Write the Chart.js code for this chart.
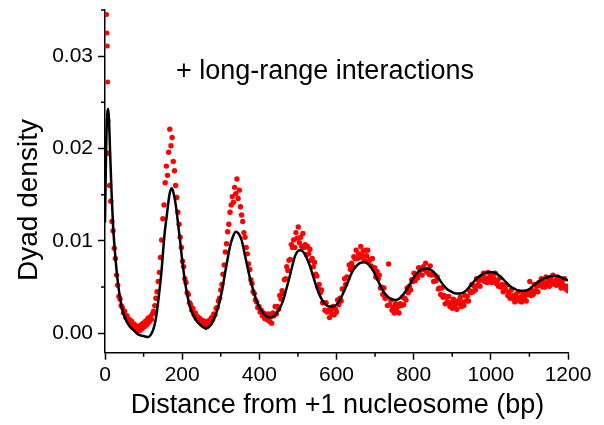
<!DOCTYPE html>
<html>
<head>
<meta charset="utf-8">
<script src="https://cdn.jsdelivr.net/npm/chart.js@4.4.1/dist/chart.umd.min.js"></script>
<style>
  html, body { margin: 0; padding: 0; background: #fff; }
  #wrap { width: 604px; height: 425px; }
</style>
</head>
<body>
<div id="wrap"><canvas id="grafico" width="604" height="425"></canvas></div>
<script>
// ticks
const xTicks = [0, 200, 400, 600, 800, 1000, 1200];
const yTicks = [0.00, 0.01, 0.02, 0.03];

// the first few points right at the +1 nucleosome (bp, density)
const spikeX = [4, 5, 6, 7, 8];
const spikeY = [0.0345, 0.0325, 0.0311, 0.0272, 0.0230];

// measured dyad density, one value every 3 bp starting at 9 bp
const dyadStart = 9;
const dyadStep = 3;
const dyadDensity = [
  // 9 - 93
  .0195, .0160, .0143, .0121, .0111, .0092, .0081, .0063, .0052, .0040, .0037, .0030, .0028, .0022, .0024,
  .0017, .0019, .0013, .0015, .0009, .0013, .0006, .0010, .0004, .0008, .0002, .0007, .0003, .0009,
  // 96 - 192
  .0005, .0011, .0007, .0013, .0009, .0016, .0012, .0018, .0015, .0021, .0024, .0030, .0038, .0045, .0056,
  .0066, .0082, .0101, .0124, .0139, .0163, .0181, .0171, .0196, .0221, .0203, .0212, .0186, .0176, .0160,
  .0147, .0131, .0118,
  // 195 - 300
  .0104, .0093, .0078, .0072, .0059, .0055, .0044, .0042, .0033, .0031, .0025, .0027, .0020, .0022, .0016,
  .0018, .0013, .0016, .0011, .0014, .0009, .0013, .0008, .0012, .0010, .0014, .0011, .0017, .0015, .0021,
  .0020, .0027, .0028, .0035, .0038, .0047,
  // 303 - 420
  .0053, .0064, .0074, .0088, .0097, .0110, .0118, .0131, .0139, .0148, .0142, .0158, .0151, .0167, .0146,
  .0155, .0137, .0128, .0121, .0109, .0104, .0093, .0086, .0075, .0069, .0058, .0054, .0045, .0043, .0036,
  .0034, .0028, .0029, .0023, .0025, .0019, .0022, .0016, .0020, .0015,
  // 423 - 540
  .0021, .0013, .0018, .0011, .0022, .0019, .0029, .0021, .0029, .0026, .0041, .0037, .0046, .0043, .0058,
  .0059, .0072, .0068, .0079, .0080, .0096, .0093, .0101, .0093, .0109, .0103, .0115, .0098, .0104, .0094,
  .0108, .0093, .0096, .0085, .0094, .0086, .0091, .0079, .0081, .0072,
  // 543 - 660
  .0077, .0064, .0062, .0050, .0053, .0044, .0047, .0033, .0033, .0025, .0033, .0023, .0025, .0017, .0025,
  .0021, .0029, .0020, .0026, .0023, .0036, .0031, .0038, .0035, .0048, .0048, .0059, .0053, .0061, .0060,
  .0074, .0069, .0076, .0072, .0083, .0081, .0090, .0081, .0086, .0082,
  // 663 - 780
  .0094, .0084, .0089, .0079, .0090, .0084, .0090, .0078, .0080, .0073, .0081, .0070, .0071, .0061, .0067,
  .0059, .0063, .0049, .0050, .0042, .0049, .0038, .0039, .0030, .0075, .0031, .0036, .0025, .0028, .0022,
  .0032, .0024, .0029, .0022, .0032, .0030, .0039, .0031, .0038, .0036,
  // 783 - 900
  .0049, .0044, .0051, .0047, .0058, .0056, .0065, .0057, .0063, .0060, .0071, .0064, .0069, .0063, .0072,
  .0069, .0076, .0066, .0069, .0064, .0073, .0063, .0065, .0056, .0063, .0057, .0061, .0048, .0049, .0042,
  .0049, .0039, .0041, .0032, .0039, .0034, .0040, .0029, .0033, .0027,
  // 903 - 1020
  .0037, .0029, .0033, .0026, .0035, .0032, .0039, .0029, .0034, .0030, .0041, .0035, .0040, .0035, .0046,
  .0044, .0053, .0045, .0051, .0047, .0059, .0052, .0057, .0051, .0061, .0058, .0065, .0056, .0060, .0055,
  .0066, .0058, .0062, .0055, .0063, .0059, .0065, .0054, .0057, .0051,
  // 1023 - 1200
  .0060, .0050, .0053, .0045, .0052, .0047, .0052, .0041, .0044, .0038, .0047, .0038, .0041, .0034, .0042,
  .0038, .0045, .0035, .0039, .0034, .0044, .0037, .0041, .0035, .0045, .0042, .0056, .0041, .0046, .0042,
  .0053, .0046, .0051, .0045, .0055, .0052, .0059, .0050, .0055, .0050, .0061, .0053, .0057, .0051, .0060,
  .0056, .0063, .0053, .0057, .0052, .0061, .0053, .0056, .0049, .0057, .0052, .0059, .0048, .0051, .0046
];

// fitted curve (black line)
const fitX = [0, 3, 6, 8.6, 11, 13, 17, 21, 26, 30, 34.5, 39, 43, 50, 56, 65, 73, 82, 90, 100,
  112, 118, 125, 130, 134, 138, 142.5, 147, 151, 155, 160, 164, 168, 173, 177, 181, 186, 190, 195, 199,
  204, 208, 214, 220, 228, 238, 250, 262, 272, 281, 290, 298, 305, 311, 318, 324, 331, 339, 346, 354,
  360, 367, 375, 384, 393, 402, 414, 426, 436, 445, 454, 462, 470, 479, 486, 492, 498, 505, 512, 520,
  530, 540, 550, 560, 570, 580, 589, 600, 610, 620, 630, 640, 650, 660, 672, 682, 692, 702, 712, 722,
  732, 742, 753, 764, 775, 786, 797, 808, 820, 838, 850, 862, 874, 886, 898, 910, 920, 932, 944, 956,
  968, 980, 992, 1002, 1014, 1026, 1038, 1050, 1062, 1074, 1088, 1100, 1112, 1124, 1136, 1148, 1160, 1170, 1180, 1190,
  1200];
const fitY = [.0120, .0200, .0238, .0243, .0225, .0199, .0152, .0116, .0087, .0068, .0051, .0039, .0029, .0019, .0013, .0007, .0004, .0000, -.0002, -.0003,
  -.0004, -.0002, .0004, .0012, .0022, .0035, .0051, .0070, .0091, .0110, .0127, .0141, .0152, .0157, .0153, .0145, .0131, .0116, .0099, .0083,
  .0066, .0054, .0040, .0029, .0020, .0013, .0008, .0005, .0008, .0014, .0024, .0036, .0050, .0065, .0081, .0094, .0104, .0110, .0108, .0101,
  .0090, .0076, .0061, .0047, .0035, .0027, .0020, .0017, .0018, .0022, .0028, .0036, .0048, .0062, .0074, .0083, .0088, .0090, .0089, .0084,
  .0074, .0061, .0048, .0038, .0032, .0029, .0029, .0031, .0037, .0046, .0056, .0066, .0072, .0076, .0077, .0075, .0070, .0062, .0053, .0045,
  .0040, .0037, .0036, .0038, .0043, .0050, .0058, .0065, .0069, .0070, .0067, .0061, .0054, .0048, .0045, .0043, .0043, .0045, .0050, .0056,
  .0061, .0064, .0066, .0066, .0065, .0061, .0056, .0051, .0048, .0046, .0046, .0048, .0052, .0056, .0059, .0061, .0062, .0062, .0061, .0059,
  .0057];

const xTitle = 'Distance from +1 nucleosome (bp)';
const yTitle = 'Dyad density';
const annotationText = '+ long-range interactions';

document.addEventListener('DOMContentLoaded', function () {
    const fonte = 'Arial, "Liberation Sans", sans-serif';
    Chart.defaults.font.family = fonte;
    Chart.defaults.color = '#000';

    const pontosSpike = spikeX.map((x, i) => ({ x: x, y: spikeY[i] }));
    const pontosDyad = dyadDensity.map((v, i) => ({ x: dyadStart + i * dyadStep, y: v }));
    const pontosFit = fitX.map((x, i) => ({ x: x, y: fitY[i] }));

    // minor ticks halfway between the labelled ones
    const minorTicks = {
        id: 'minorTicks',
        afterDraw(chart) {
            const { ctx, scales: { x, y }, chartArea } = chart;
            ctx.save();
            ctx.strokeStyle = '#000';
            ctx.lineWidth = 1.5;
            ctx.beginPath();
            for (let i = 0; i < xTicks.length - 1; i++) {
                const px = x.getPixelForValue((xTicks[i] + xTicks[i + 1]) / 2);
                ctx.moveTo(px, chartArea.bottom);
                ctx.lineTo(px, chartArea.bottom + 4);
            }
            yTicks.map(v => v + 0.005).forEach(v => {
                const py = y.getPixelForValue(v);
                ctx.moveTo(chartArea.left, py);
                ctx.lineTo(chartArea.left - 4, py);
            });
            ctx.stroke();
            ctx.restore();
        }
    };

    // axis titles and the label inside the plot
    const textos = {
        id: 'textos',
        afterDraw(chart) {
            const { ctx, scales: { x, y }, chartArea } = chart;
            ctx.save();
            ctx.fillStyle = '#000';
            ctx.textBaseline = 'alphabetic';

            ctx.font = '27px ' + fonte;
            ctx.textAlign = 'left';
            ctx.fillText(annotationText, x.getPixelForValue(184), y.getPixelForValue(0.0275));

            ctx.textAlign = 'center';
            ctx.fillText(xTitle, (chartArea.left + chartArea.right) / 2 + 1, 413);

            ctx.font = '28px ' + fonte;
            ctx.translate(37, 200);
            ctx.rotate(-Math.PI / 2);
            ctx.fillText(yTitle, 0, 0);
            ctx.restore();
        }
    };

    const ctxGrafico = document.getElementById('grafico').getContext('2d');
    const grafico = new Chart(ctxGrafico, {
        type: 'scatter',
        data: {
            datasets: [{
                label: 'fit',
                data: pontosFit,
                showLine: true,
                borderColor: '#000',
                borderWidth: 2.5,
                pointRadius: 0,
                cubicInterpolationMode: 'monotone',
                order: 0
            }, {
                label: 'dyad',
                data: pontosDyad,
                backgroundColor: 'rgb(255, 0, 0)',
                borderWidth: 0,
                pointRadius: 2.7,
                order: 1
            }, {
                label: 'spike',
                data: pontosSpike,
                backgroundColor: 'rgb(255, 0, 0)',
                borderWidth: 0,
                pointRadius: 2.5,
                order: 2
            }]
        },
        options: {
            responsive: false,
            animation: false,
            events: [],
            layout: { padding: { top: 10, right: 36, left: 0, bottom: 0 } },
            plugins: { legend: { display: false }, tooltip: { enabled: false } },
            scales: {
                x: {
                    type: 'linear',
                    position: 'bottom',
                    min: 0,
                    max: 1200,
                    afterBuildTicks: s => { s.ticks = xTicks.map(v => ({ value: v })); },
                    afterFit: s => { s.height = 72.3; s.paddingLeft = 0; s.paddingRight = 0; },
                    ticks: { font: { size: 21 }, padding: 3, maxRotation: 0, callback: v => String(v) },
                    grid: { drawOnChartArea: false, drawTicks: true, tickLength: 7, tickWidth: 1.5, tickColor: '#000' },
                    border: { display: true, color: '#000', width: 1.5 }
                },
                y: {
                    type: 'linear',
                    min: -0.0021,
                    max: 0.035,
                    afterBuildTicks: s => { s.ticks = yTicks.map(v => ({ value: v })); },
                    afterFit: s => { s.width = 105; s.paddingTop = 0; s.paddingBottom = 0; },
                    ticks: { font: { size: 21 }, padding: 5, callback: v => v.toFixed(2) },
                    grid: { drawOnChartArea: false, drawTicks: true, tickLength: 7, tickWidth: 1.5, tickColor: '#000' },
                    border: { display: true, color: '#000', width: 1.5 }
                }
            }
        },
        plugins: [minorTicks, textos]
    });
});
</script>
</body>
</html>
